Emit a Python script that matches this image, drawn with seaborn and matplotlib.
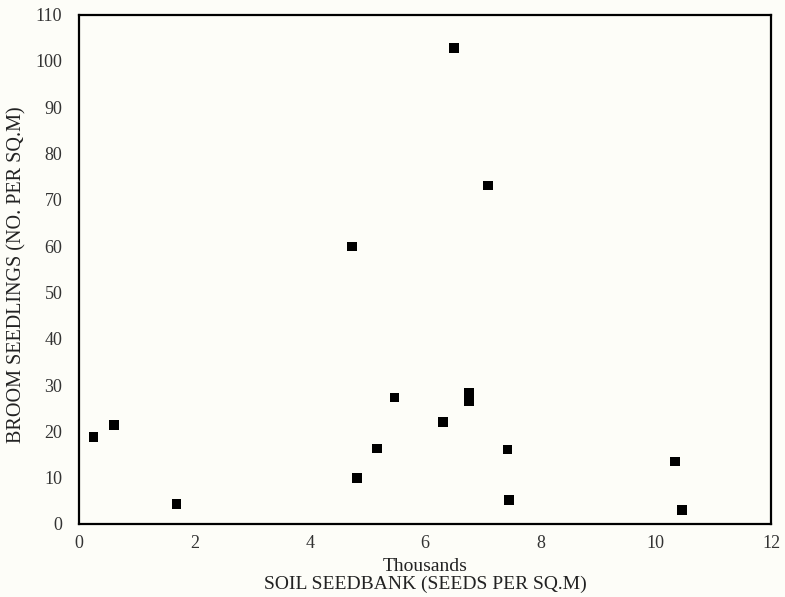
import matplotlib
matplotlib.use("Agg")
import matplotlib.pyplot as plt
import seaborn as sns
import pandas as pd

# Data (x in thousands of seeds per sq.m)
seedbank_thousands = [0.25, 0.60, 1.69, 4.73, 4.82, 5.17, 5.47, 6.31, 6.50, 6.76, 6.76, 7.09, 7.43, 7.45, 10.34, 10.46]
broom_seedlings = [18.7, 21.3, 4.3, 59.9, 9.9, 16.3, 27.3, 22.1, 102.7, 28.2, 26.6, 73.1, 16.1, 5.1, 13.5, 3.1]

x_ticks = [0, 2, 4, 6, 8, 10, 12]
y_ticks = [0, 10, 20, 30, 40, 50, 60, 70, 80, 90, 100, 110]

df = pd.DataFrame({"seedbank": seedbank_thousands, "seedlings": broom_seedlings})

sns.set_theme(style="white")
plt.rcParams["font.family"] = ["Liberation Serif", "DejaVu Serif"]

bg = "#fdfdf8"
fig = plt.figure(figsize=(7.85, 5.97), dpi=100, facecolor=bg)
ax = fig.add_axes([79 / 785, 1 - 524 / 597, 692 / 785, (524 - 14.5) / 597])
ax.set_facecolor(bg)

sns.scatterplot(data=df, x="seedbank", y="seedlings", marker="s", s=50,
                color="black", edgecolor="none", linewidth=0, ax=ax, legend=False)

ax.set_xlim(0, 12)
ax.set_ylim(0, 110)
ax.set_xticks(x_ticks)
ax.set_yticks(y_ticks)
ax.set_xticklabels([str(t) for t in x_ticks])
ax.set_yticklabels([str(t) for t in y_ticks])

ax.tick_params(axis="x", length=0, pad=8, labelsize=13, labelcolor="#333333")
ax.tick_params(axis="y", direction="in", length=4, width=0.6, color="#aaaaaa",
               pad=12, labelsize=13, labelcolor="#333333")

for side in ["left", "bottom", "top", "right"]:
    ax.spines[side].set_visible(True)
    ax.spines[side].set_color("black")
    ax.spines[side].set_linewidth(1.6)

ax.set_xlabel("Thousands\nSOIL SEEDBANK (SEEDS PER SQ.M)", fontsize=14,
              color="#222222", labelpad=4, linespacing=1.1)
ax.set_ylabel("BROOM SEEDLINGS (NO. PER SQ.M)", fontsize=14.5, color="#222222")
ax.yaxis.set_label_coords(-0.0766, 0.489)

fig.savefig("out.png", dpi=100, facecolor=bg)
